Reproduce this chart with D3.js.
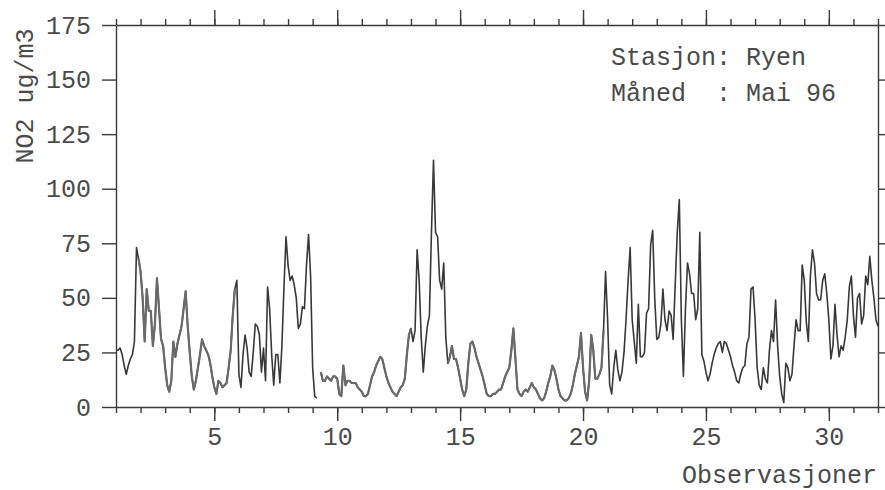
<!DOCTYPE html>
<html>
<head>
<meta charset="utf-8">
<script src="https://cdn.jsdelivr.net/npm/d3@7"></script>
<style>
  body { margin: 0; background: #fff; }
  text { font-family: "Courier New", "Liberation Mono", monospace; fill: #4a4a4a; }
</style>
</head>
<body>
<svg id="chart"></svg>
<script>
// ====== Données : NO2 Ryen, mai 1996, une valeur toutes les 2 heures ====== //
const dayTicks = d3.range(1, 33);            // 1 .. 32
const xLabels = [5, 10, 15, 20, 25, 30];
const yTicks = [0, 25, 50, 75, 100, 125, 150, 175];

// une ligne = un jour (12 valeurs), null = mesure manquante
const no2 = [
  26, 26, 27, 24, 19, 15, 19, 22, 24, 30, 73, 68,
  62, 50, 30, 54, 44, 44, 28, 38, 59, 45, 31, 28,
  18, 10, 7, 12, 30, 23, 29, 33, 37, 45, 53, 37,
  25, 14, 8, 12, 18, 24, 31, 28, 26, 24, 20, 14,
  9, 6, 12, 11, 9, 10, 11, 18, 26, 42, 54, 58,
  15, 9, 24, 33, 27, 16, 14, 25, 38, 37, 33, 16,
  27, 12, 55, 45, 24, 10, 24, 24, 11, 28, 55, 78,
  65, 58, 60, 56, 50, 36, 38, 46, 45, 65, 79, 60,
  18, 5, 4, null, 16, 12, 12, 14, 13, 12, 14, 14,
  13, 6, 5, 19, 10, 12, 12, 11, 11, 11, 9, 8,
  7, 5, 5, 6, 10, 14, 16, 19, 21, 23, 22, 18,
  14, 11, 9, 7, 6, 5, 7, 9, 10, 13, 24, 33,
  36, 30, 35, 72, 58, 32, 16, 28, 37, 42, 80, 113,
  80, 78, 58, 54, 66, 32, 20, 23, 28, 22, 22, 18,
  13, 8, 5, 8, 20, 29, 30, 27, 23, 20, 17, 14,
  10, 6, 5, 5, 6, 6, 7, 8, 8, 11, 14, 16,
  18, 26, 36, 22, 8, 6, 5, 7, 8, 7, 9, 11,
  9, 8, 6, 4, 3, 4, 7, 11, 14, 19, 17, 13,
  8, 5, 4, 3, 3, 4, 6, 10, 15, 19, 23, 34,
  18, 7, 3, 12, 33, 26, 13, 13, 15, 18, 35, 62,
  40, 10, 6, 18, 26, 17, 12, 16, 25, 40, 58, 73,
  40, 30, 20, 47, 23, 23, 25, 43, 45, 74, 81, 50,
  31, 32, 38, 54, 40, 35, 44, 42, 31, 56, 80, 95,
  40, 14, 45, 66, 61, 52, 52, 40, 45, 80, 24, 21,
  16, 12, 15, 20, 24, 27, 29, 30, 25, 30, 29, 26,
  23, 19, 16, 12, 11, 15, 18, 19, 29, 32, 54, 55,
  40, 18, 10, 8, 18, 13, 11, 26, 35, 30, 49, 28,
  14, 6, 2, 20, 18, 12, 15, 28, 40, 35, 35, 65,
  58, 39, 30, 60, 72, 66, 52, 49, 49, 58, 61, 52,
  40, 22, 28, 47, 33, 23, 28, 26, 32, 40, 55, 60,
  42, 32, 50, 52, 38, 42, 60, 56, 69, 58, 50, 40,
  37
];

const station = "Stasjon: Ryen";
const month = "Måned  : Mai 96";

// ====== Dimensions ====== //
const width = 885;
const height = 490;

const svg = d3.select("#chart")
  .attr("width", width)
  .attr("height", height);

const x = d3.scaleLinear().domain([1, 32]).range([116, 878]);
const y = d3.scaleLinear().domain([0, 175]).range([407, 25]);

const series = no2.map((v, i) => ({ t: 1 + i / 12, v: v }));

// style commun des axes
function styleAxis(g) {
  g.selectAll("path, line").attr("stroke", "#3a3a3a").attr("stroke-width", 1.4);
  g.selectAll("text").style("font-size", "25px");
}

// axe bas : petites graduations chaque jour + grandes tous les 5 jours
svg.append("g")
  .attr("transform", `translate(0,${y(0)})`)
  .call(d3.axisBottom(x).tickValues(dayTicks).tickSize(6).tickSizeOuter(0).tickFormat(""))
  .call(styleAxis);

svg.append("g")
  .attr("transform", `translate(0,${y(0)})`)
  .call(d3.axisBottom(x).tickValues(xLabels).tickSize(14).tickPadding(6).tickFormat(d3.format("d")))
  .call(g => g.select(".domain").remove())
  .call(styleAxis);

// axe haut, sans libellés
svg.append("g")
  .attr("transform", `translate(0,${y(175)})`)
  .call(d3.axisTop(x).tickValues(dayTicks).tickSize(6).tickSizeOuter(0).tickFormat(""))
  .call(styleAxis);

svg.append("g")
  .attr("transform", `translate(0,${y(175)})`)
  .call(d3.axisTop(x).tickValues(xLabels).tickSize(15).tickFormat(""))
  .call(g => g.select(".domain").remove())
  .call(styleAxis);

// axe gauche
svg.append("g")
  .attr("transform", `translate(${x(1)},0)`)
  .call(d3.axisLeft(y).tickValues(yTicks).tickSize(14).tickSizeOuter(0).tickPadding(11))
  .call(styleAxis);

// axe droit, graduations seules
svg.append("g")
  .attr("transform", `translate(${x(32)},0)`)
  .call(d3.axisRight(y).tickValues(yTicks).tickSize(7).tickSizeOuter(0).tickFormat(""))
  .call(styleAxis);

// courbe NO2
const line = d3.line()
  .defined(d => d.v != null)
  .x(d => x(d.t))
  .y(d => y(d.v));

svg.append("path")
  .datum(series)
  .attr("fill", "none")
  .attr("stroke", "#383838")
  .attr("stroke-width", 1.6)
  .attr("stroke-linejoin", "round")
  .attr("d", line);

// tronçons plus clairs (tracé plus pâle sur le papier)
const paleSpans = [[1.85, 5.9], [9.3, 13.0], [14.45, 20.85]];
paleSpans.forEach(([a, b]) => {
  svg.append("path")
    .datum(series.filter(d => d.t >= a && d.t <= b))
    .attr("fill", "none")
    .attr("stroke", "#6a6a6a")
    .attr("stroke-width", 2.2)
    .attr("stroke-linejoin", "round")
    .attr("d", line);
});

// titres
svg.append("text")
  .attr("transform", "translate(33,96) rotate(-90)")
  .attr("text-anchor", "middle")
  .style("font-size", "25px")
  .text("NO2 ug/m3");

svg.append("text")
  .attr("x", 877)
  .attr("y", 483)
  .attr("text-anchor", "end")
  .style("font-size", "25px")
  .text("Observasjoner");

svg.append("text")
  .attr("x", 611)
  .attr("y", 65)
  .style("font-size", "25px")
  .style("white-space", "pre")
  .text(station);

svg.append("text")
  .attr("x", 611)
  .attr("y", 101)
  .style("font-size", "25px")
  .style("white-space", "pre")
  .text(month);
</script>
</body>
</html>
